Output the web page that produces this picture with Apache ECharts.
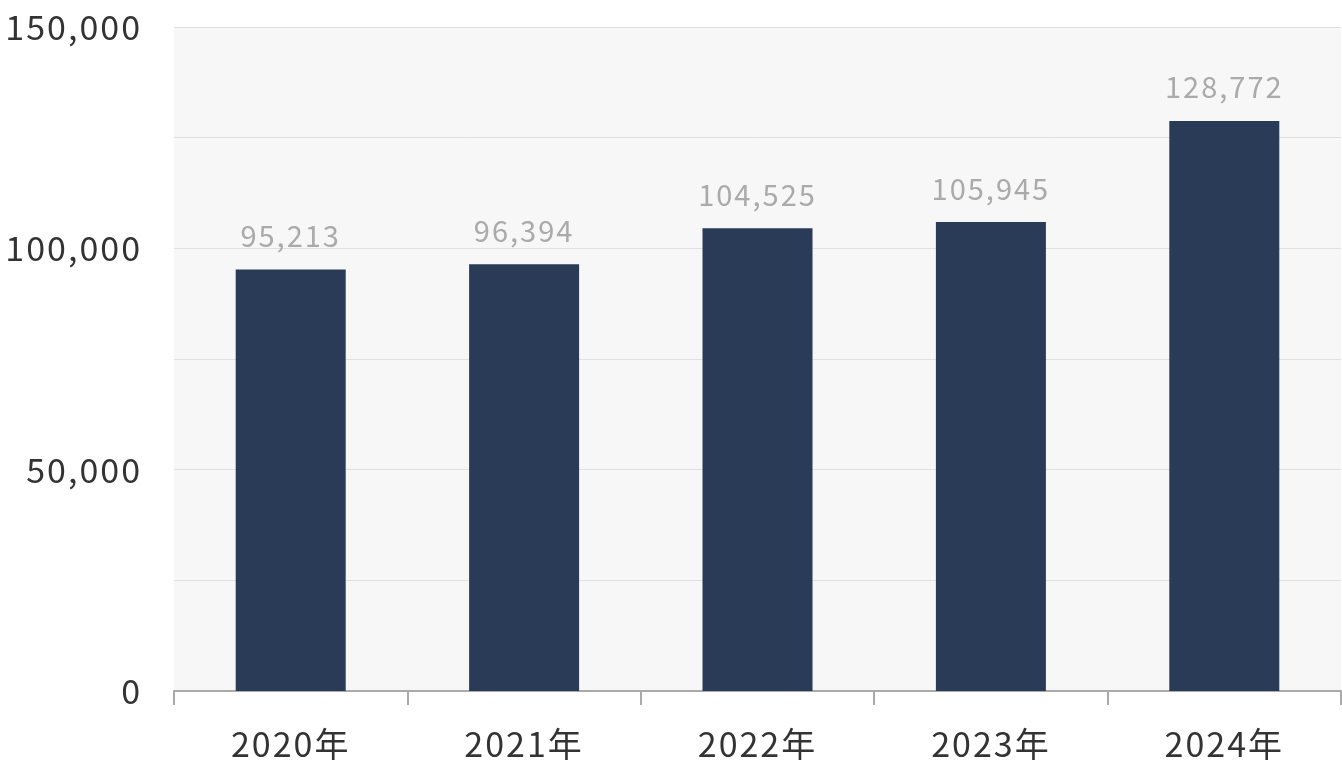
<!DOCTYPE html>
<html>
<head>
<meta charset="utf-8">
<script src="https://cdn.jsdelivr.net/npm/echarts@6/dist/echarts.min.js"></script>
<style>
html,body{margin:0;padding:0;background:#fff;}
#chart{width:1342px;height:770px;}
</style>
</head>
<body>
<div id="chart"></div>
<script>
const categories = ['2020年', '2021年', '2022年', '2023年', '2024年'];
const values = [95213, 96394, 104525, 105945, 128772];
const yTickLabels = [0, 50000, 100000, 150000];

// widen glyph spacing slightly, like the reference typography
(function () {
  const proto = CanvasRenderingContext2D.prototype;
  const origFill = proto.fillText;
  proto.fillText = function () {
    if ('letterSpacing' in this) this.letterSpacing = '2px';
    return origFill.apply(this, arguments);
  };
})();

const FONT = '"Noto Sans CJK JP", "Noto Sans", sans-serif';
const chart = echarts.init(document.getElementById('chart'), null, {renderer: 'canvas'});
chart.setOption({
  animation: false,
  grid: {
    left: 174, right: 1, top: 27, bottom: 79,
    show: true, backgroundColor: '#f7f7f7', borderWidth: 0
  },
  xAxis: {
    type: 'category',
    data: categories,
    axisLine: {show: true, lineStyle: {color: '#aaaaaa', width: 2}},
    axisTick: {show: true, length: 14, lineStyle: {color: '#aaaaaa', width: 2}},
    axisLabel: {color: '#333333', fontSize: 34, fontFamily: FONT, margin: 36}
  },
  yAxis: {
    type: 'value',
    min: 0, max: 150000, interval: 25000,
    axisLine: {show: false},
    axisTick: {show: false},
    splitLine: {show: true, lineStyle: {color: '#e0e0e0', width: 1}},
    axisLabel: {
      color: '#333333', fontSize: 34, fontFamily: FONT, margin: 32,
      formatter: function (v) {
        return yTickLabels.indexOf(v) >= 0 ? v.toLocaleString('en-US') : '';
      }
    }
  },
  series: [{
    type: 'bar',
    data: values,
    barWidth: 110,
    itemStyle: {color: '#293b57'},
    label: {
      show: true, position: 'top', distance: 19,
      color: '#aaaaaa', fontSize: 29, fontFamily: FONT,
      formatter: function (p) { return p.value.toLocaleString('en-US'); }
    }
  }]
});
</script>
</body>
</html>
